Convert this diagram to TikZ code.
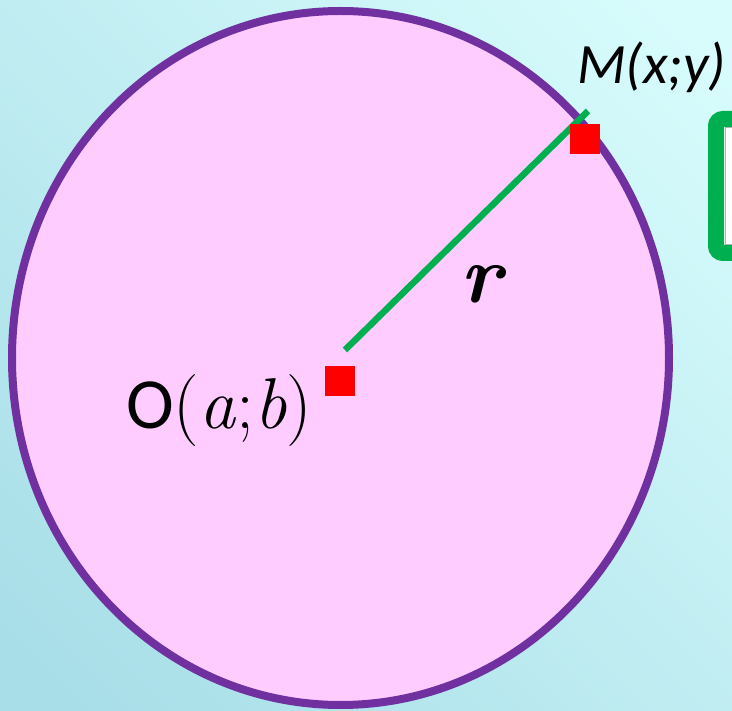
\documentclass[tikz,border=0pt]{standalone}
\usepackage{fontspec}
\newfontfamily\carlito{Carlito}
\definecolor{bgdark}{HTML}{A8DEE8}
\definecolor{bglight}{HTML}{D8FCFC}
\definecolor{rimpurple}{HTML}{7030A0}
\definecolor{diskpink}{HTML}{FFCCFF}
\definecolor{rgreen}{HTML}{00B050}
\begin{document}
\begin{tikzpicture}[x=1pt, y=-1pt,
				ptsq/.style={rectangle, fill=red, inner sep=0pt, minimum size=30pt},
				rline/.style={draw=rgreen, line width=6.5pt},
				lbl/.style={anchor=base west, inner sep=0pt}
				]
				\useasboundingbox (0,0) rectangle (732,711);
				\clip (0,0) rectangle (732,711);
				\shade[top color=bglight, bottom color=bgdark, shading angle=-45] (-100,-100) rectangle (832,811);
				% circle
				\draw[draw=rimpurple, fill=diskpink, line width=8pt] (340.5,358) ellipse [x radius=328.5, y radius=347];
				% frame on the right
				\draw[draw=rgreen, line width=16pt, fill=white, rounded corners=7pt] (716,119) rectangle (800,253);
				\draw[gray!60, line width=1pt] (725.5,127.5) rectangle (800,244.5);
				% radius
				\coordinate (rO) at (345,350);
				\coordinate (rM) at (588,111);
				\draw[rline] (rO) -- (rM);
				\node[ptsq] (O) at (339.5,381.5) {};
				\node[ptsq] (M) at (584.5,139.5) {};
				% labels
				\node[lbl, font=\carlito\itshape\fontsize{57}{60}\selectfont] (Mlbl) at (577,84) {M(x;y)};
				\node[lbl, font=\fontsize{72}{76}\selectfont] (Olbl) at (126,429) {{\carlito O}(\textit{a};\textit{b})};
				\node[lbl, font=\bfseries\itshape\fontsize{82}{86}\selectfont] (rlbl) at (460,303) {r};
			\end{tikzpicture}
\end{document}
